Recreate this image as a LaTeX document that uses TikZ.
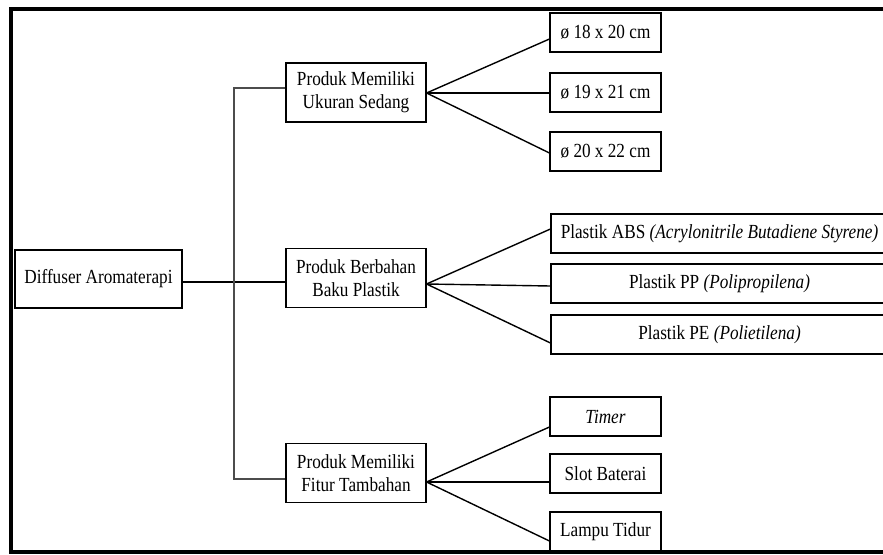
\documentclass[tikz,border=0pt]{standalone}
\usepackage{fontspec}
\setmainfont[FakeStretch=0.86]{Liberation Serif}
\begin{document}
\begin{tikzpicture}[x=1pt,y=-1pt,
  box/.style={draw=black, line width=1.1pt, inner sep=0pt, align=center,
    font=\fontsize{20}{23}\selectfont},
  midbox/.style={box, minimum width=140, minimum height=59},
  smallbox/.style={box, minimum width=111, minimum height=39},
  widebox/.style={box, minimum width=337, minimum height=39},
  link/.style={line width=1.4pt, black},
  trunk/.style={line width=1.3pt, black!70}]
\useasboundingbox (0,0) rectangle (883,554);
\clip (0,0) rectangle (883,554);
\draw[line width=4pt] (11,9) rectangle (900,552);

\node[box, minimum width=167, minimum height=58] (root) at (98.5,279) {Diffuser Aromaterapi};

\node[midbox] (m1) at (356,92.5) {Produk Memiliki\\Ukuran Sedang};
\node[midbox] (m2) at (356,278) {Produk Berbahan\\Baku Plastik};
\node[midbox] (m3) at (356,473) {Produk Memiliki\\Fitur Tambahan};

\node[smallbox] (a1) at (605.5,32.5) {ø 18 x 20 cm};
\node[smallbox] (a2) at (605.5,92.5) {ø 19 x 21 cm};
\node[smallbox] (a3) at (605.5,151.5) {ø 20 x 22 cm};

\node[widebox] (b1) at (719.5,233.5) {Plastik ABS \textit{(Acrylonitrile Butadiene Styrene)}};
\node[widebox] (b2) at (719.5,283.5) {Plastik PP \textit{(Polipropilena)}};
\node[widebox] (b3) at (719.5,334.5) {Plastik PE \textit{(Polietilena)}};

\node[smallbox] (c1) at (605.5,416.5) {\textit{Timer}};
\node[smallbox] (c2) at (605.5,473.5) {Slot Baterai};
\node[smallbox] (c3) at (605.5,531.5) {Lampu Tidur};

\coordinate (tt) at (234,88);
\coordinate (tb) at (234,479);
\draw[link] ([yshift=-3]root.east) -- ([yshift=-4]m2.west);
\draw[trunk] ([yshift=4.5]m1.west) -- (tt) -- (tb) -- ([yshift=-6]m3.west);

\draw[link] ([yshift=-0.5]m1.east) -- ([yshift=-6.5]a1.west);
\draw[link] ([yshift=-0.5]m1.east) -- ([yshift=-0.5]a2.west);
\draw[link] ([yshift=-0.5]m1.east) -- ([yshift=-1.5]a3.west);

\draw[link] ([yshift=-6]m2.east) -- ([yshift=4.5]b1.west);
\draw[link] ([yshift=-6]m2.east) -- ([yshift=-2.5]b2.west);
\draw[link] ([yshift=-6]m2.east) -- ([yshift=-8.5]b3.west);

\draw[link] ([yshift=-9]m3.east) -- ([yshift=-10.5]c1.west);
\draw[link] ([yshift=-9]m3.east) -- ([yshift=-8.5]c2.west);
\draw[link] ([yshift=-9]m3.east) -- ([yshift=-9.5]c3.west);
\end{tikzpicture}
\end{document}
